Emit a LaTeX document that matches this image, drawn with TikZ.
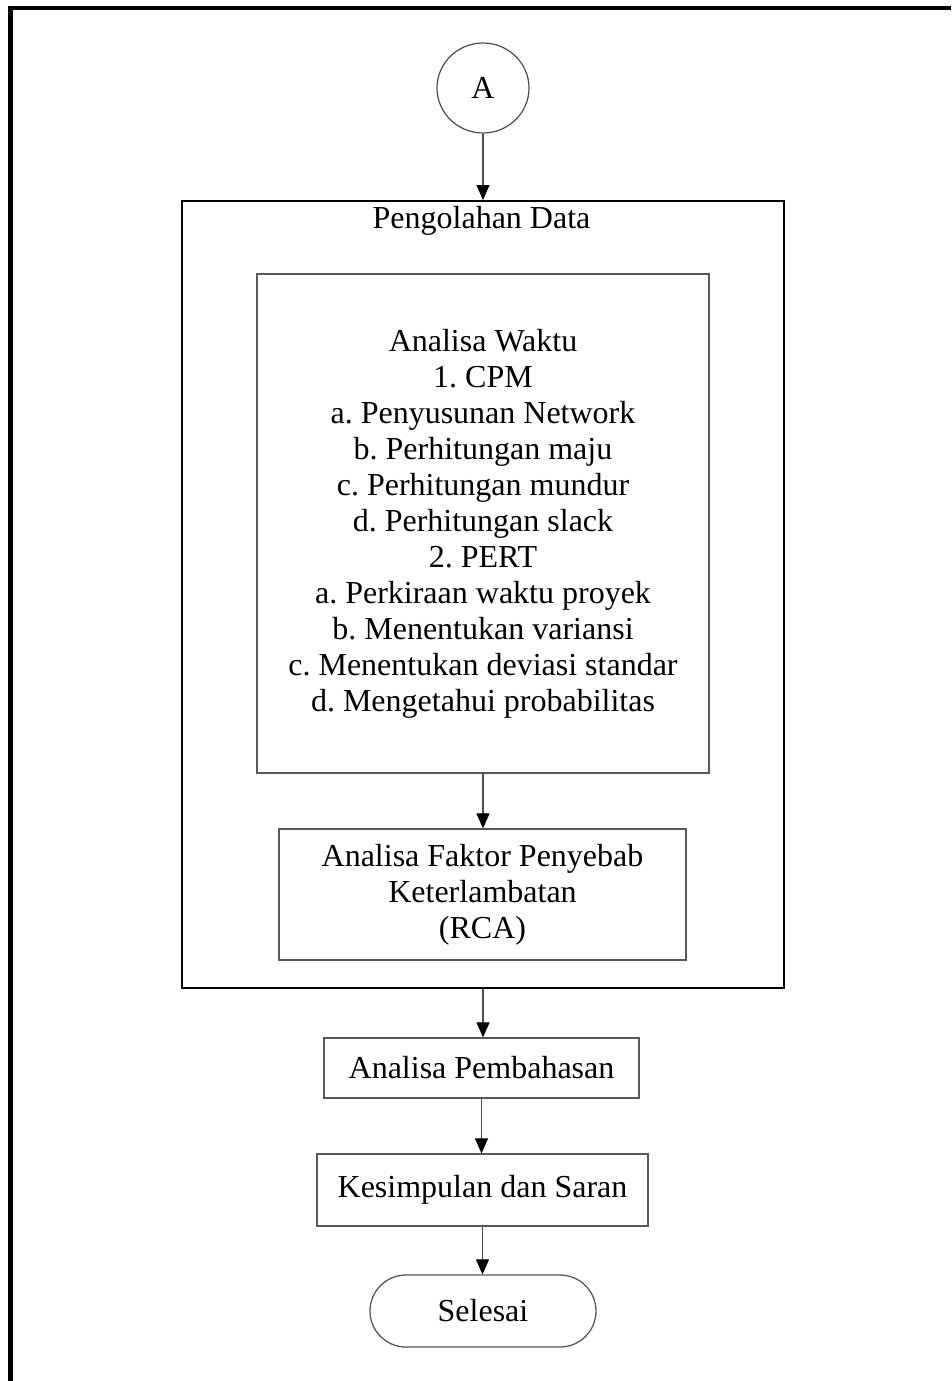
\documentclass[tikz,border=0pt]{standalone}
\usepackage{fontspec}
\setmainfont{Liberation Serif}
\usetikzlibrary{arrows.meta,shapes.geometric}
\frenchspacing
\begin{document}
\begin{tikzpicture}[x=1pt,y=-1pt,
  every node/.style={font=\fontsize{32}{36}\selectfont\frenchspacing, inner sep=0pt, align=center},
  procbox/.style={draw=black!65, line width=1.3pt, rectangle},
  groupbox/.style={draw=black, line width=2pt, rectangle},
  conn/.style={draw=black!70, line width=1.2pt, -{Triangle[length=15pt,width=13pt,black]}},
  framestyle/.style={line width=4.5pt, black}
]
\useasboundingbox (0,0) rectangle (951,1381);
% outer page frame (left and top only)
\coordinate (fbl) at (10.5,1381);
\coordinate (ftl) at (10.5,8);
\coordinate (ftr) at (951,8);
\draw[framestyle] (fbl) -- (ftl) -- (ftr);

% connector A
\node[draw=black!70, line width=1.2pt, ellipse, minimum width=92pt, minimum height=90pt] (A) at (483,88) {A};

% group box
\node[groupbox, minimum width=602pt, minimum height=787pt] (pd) at (483,594.5) {};
\node[anchor=base] (pdlabel) at (481.5,228) {Pengolahan Data};

% time analysis box
\node[procbox, minimum width=452pt, minimum height=499pt] (aw) at (483,523.5) {%
Analisa Waktu\\
1. CPM\\
a. Penyusunan Network\\
b. Perhitungan maju\\
c. Perhitungan mundur\\
d. Perhitungan slack\\
2. PERT\\
a. Perkiraan waktu proyek\\
b. Menentukan variansi\\
c. Menentukan deviasi standar\\
d. Mengetahui probabilitas};

% RCA box
\node[procbox, minimum width=407pt, minimum height=131pt] (rca) at (482.5,894.5) {%
Analisa Faktor Penyebab\\
Keterlambatan\\
(RCA)};

\node[procbox, minimum width=315pt, minimum height=60pt] (ap) at (481.5,1068) {Analisa Pembahasan};
\node[procbox, minimum width=331pt, minimum height=72pt] (ks) at (482.5,1190) {Kesimpulan dan Saran};
\node[procbox, rounded corners=36pt, minimum width=226pt, minimum height=72pt] (sl) at (483,1311) {Selesai};

% connectors
\draw[conn] (A.south) -- (pd.north);
\draw[conn] (aw.south) -- (aw.south |- rca.north);
\draw[conn] (pd.south) -- (pd.south |- ap.north);
\draw[conn] (ap.south) -- (ap.south |- ks.north);
\draw[conn] (ks.south) -- (ks.south |- sl.north);
\end{tikzpicture}
\end{document}
